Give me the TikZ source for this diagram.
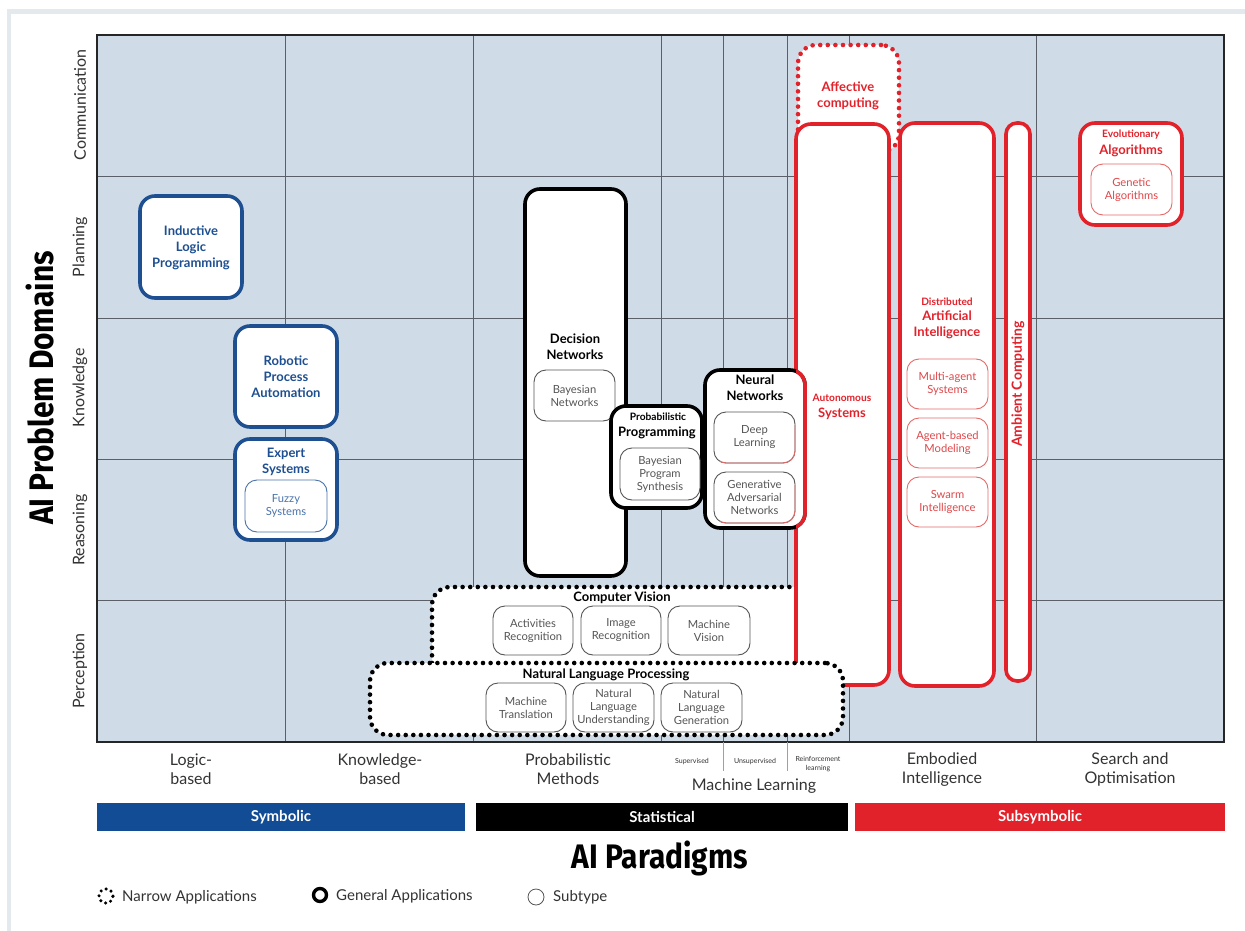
\documentclass[tikz,border=0pt]{standalone}
\usepackage{fontspec}
\setmainfont{Lato}
\newfontfamily\headfont[FakeStretch=0.88]{Fira Sans}

\definecolor{gridfill}{HTML}{CFDCE7}
\definecolor{gridline}{HTML}{5B6068}
\definecolor{framegray}{HTML}{E3E9ED}
\definecolor{blueC}{HTML}{1D4F91}
\definecolor{blueBar}{HTML}{124C94}
\definecolor{blueSub}{HTML}{4A73AA}
\definecolor{redC}{HTML}{E2222B}
\definecolor{redSub}{HTML}{E46A6A}
\definecolor{redText}{HTML}{E0474A}
\definecolor{subBorder}{HTML}{555555}
\definecolor{subText}{HTML}{555555}
\definecolor{textDark}{HTML}{333333}

% box of given corner coordinates: name, style, x1, y1, x2, y2
\newcommand\abox[6]{\node[#2, minimum width={(#5-#3)*1pt}, minimum height={(#6-#4)*1pt}] (#1) at ({(#3+#5)/2},{(#4+#6)/2}) {};}

\begin{document}
\begin{tikzpicture}[x=1pt,y=-1pt,
  gen/.style={draw, line width=3.6pt, rounded corners=15pt, fill=white, inner sep=0pt, outer sep=0pt},
  subb/.style={draw, line width=0.9pt, rounded corners=12pt, fill=white, inner sep=0pt, outer sep=0pt},
  narrow/.style={draw, line width=4.6pt, dash pattern=on 0pt off 7.6pt, line cap=round, rounded corners=18pt, fill=white, inner sep=0pt, outer sep=0pt},
  ttl/.style={align=center, font=\fontsize{13}{16}\selectfont\bfseries, inner sep=0pt},
  ttls/.style={align=center, font=\fontsize{10.2}{12}\selectfont\bfseries, inner sep=0pt},
  subt/.style={align=center, font=\fontsize{11.2}{13}\selectfont, text=subText, inner sep=0pt},
  rowlab/.style={rotate=90, font=\fontsize{16}{19}\selectfont, text=textDark, inner sep=0pt},
  collab/.style={align=center, font=\fontsize{16}{19}\selectfont, text=textDark, inner sep=0pt},
  tinylab/.style={align=center, font=\fontsize{7}{9}\selectfont, text=textDark, inner sep=0pt},
  bar/.style={inner sep=0pt, text=white, font=\fontsize{15}{17}\selectfont\bfseries},
  legtext/.style={anchor=west, inner sep=0pt, font=\fontsize{15}{17}\selectfont, text=textDark},
  gline/.style={draw=gridline, line width=0.9pt}
]
\useasboundingbox (0,0) rectangle (1245,931);
\fill[white] (0,0) rectangle (1245,931);
\fill[framegray] (7,9) rectangle (1245,14);
\fill[framegray] (7,9) rectangle (11,931);

% ---------- grid ----------
\fill[gridfill] (97,35) rectangle (1224,742);
\foreach \x in {285,473,661,849,1036} \draw[gline] (\x,35) -- (\x,742);
\foreach \x in {723,787} \draw[gline, line width=0.6pt] (\x,35) -- (\x,742);
\foreach \y in {176.5,318,459,600.5} \draw[gline] (97,\y) -- (1224,\y);
\draw[draw=black!85, line width=1.8pt] (97,35) rectangle (1224,742);

% ---------- row labels ----------
\node[rowlab] (rComm) at (80,105) {Communication};
\node[rowlab] (rPlan) at (80,247) {Planning};
\node[rowlab] (rKnow) at (80,388) {Knowledge};
\node[rowlab] (rReas) at (80,530) {Reasoning};
\node[rowlab] (rPerc) at (80,671) {Perception};
\node[rotate=90, inner sep=0pt, font=\headfont\fontsize{34}{36}\selectfont\bfseries] (yAxis) at (40,388) {AI Problem Domains};

% ---------- symbolic boxes ----------
\abox{ilp}{gen, draw=blueC}{140}{196}{242}{298}
\node[ttl, text=blueC] (ilpT) at (191,248) {Inductive\\Logic\\Programming};
\abox{rpa}{gen, draw=blueC}{235}{326}{337}{427}
\node[ttl, text=blueC] (rpaT) at (286,377) {Robotic\\Process\\Automation};
\abox{exp}{gen, draw=blueC}{235}{439}{337}{540}
\node[ttl, text=blueC] (expT) at (286,462) {Expert\\Systems};
\abox{fuz}{subb, draw=blueSub}{245}{480}{327}{532}
\node[subt, text=blueSub] (fuzT) at (286,506) {Fuzzy\\Systems};

% ---------- narrow application: affective computing ----------
\abox{aff}{narrow, draw=redC}{798}{45}{899}{152}
\node[ttl, text=redC] (affT) at (848,95.5) {Affective\\computing};

% ---------- computer vision ----------
\abox{cv}{narrow, draw=black}{432}{587}{815}{700}
\node[ttl] (cvT) at (622,598) {Computer Vision};
\abox{ar}{subb, draw=subBorder}{493}{606}{573}{655}
\node[subt] (arT) at (533,630.5) {Activities\\Recognition};
\abox{ir}{subb, draw=subBorder}{581}{606}{661}{655}
\node[subt] (irT) at (621,630.5) {Image\\Recognition};
\abox{mv}{subb, draw=subBorder}{668}{606}{750}{655}
\node[subt] (mvT) at (709,630.5) {Machine\\Vision};

% ---------- subsymbolic boxes ----------
\abox{as}{gen, draw=redC}{796}{124}{889}{685}
\node[ttls, text=redC] (asT1) at (842,398) {Autonomous};
\node[ttl, text=redC] (asT2) at (842,413.5) {Systems};

\abox{dai}{gen, draw=redC}{900}{123}{994}{686}
\node[ttls, text=redC] (daiT1) at (947,302) {Distributed};
\node[ttl, text=redC] (daiT2) at (947,325) {Artificial\\Intelligence};
\abox{mas}{subb, draw=redSub}{907}{359}{988}{409}
\node[subt, text=redText] (masT) at (947.5,384) {Multi-agent\\Systems};
\abox{abm}{subb, draw=redSub}{907}{418}{988}{468}
\node[subt, text=redText] (abmT) at (947.5,443) {Agent-based\\Modeling};
\abox{swi}{subb, draw=redSub}{907}{477}{988}{527}
\node[subt, text=redText] (swiT) at (947.5,502) {Swarm\\Intelligence};

\abox{amb}{gen, draw=redC, rounded corners=11pt}{1006}{123}{1030}{681}
\node[ttl, text=redC, rotate=90, font=\fontsize{14}{16}\selectfont\bfseries] (ambT) at (1018,384) {Ambient Computing};

\abox{evo}{gen, draw=redC}{1080}{123}{1182}{225}
\node[ttls, text=redC] (evoT1) at (1131,135) {Evolutionary};
\node[ttl, text=redC] (evoT2) at (1131,150.5) {Algorithms};
\abox{gal}{subb, draw=redSub}{1091}{164}{1172}{215}
\node[subt, text=redText] (galT) at (1131.5,189.5) {Genetic\\Algorithms};

% ---------- statistical boxes ----------
\abox{dn}{gen, draw=black}{525}{189}{626}{576}
\node[ttl] (dnT) at (575,347) {Decision\\Networks};
\abox{bn}{subb, draw=subBorder}{534}{370}{615}{421}
\node[subt] (bnT) at (574.5,395.5) {Bayesian\\Networks};

\abox{pp}{gen, draw=black}{611}{406}{702}{508}
\node[ttls] (ppT1) at (658,417) {Probabilistic};
\node[ttl] (ppT2) at (657,432.5) {Programming};
\abox{bps}{subb, draw=subBorder}{620}{448}{700}{500}
\node[subt] (bpsT) at (660,474) {Bayesian\\Program\\Synthesis};

\abox{nn}{gen, draw=black}{705}{370}{805}{528}
\begin{scope}
  \clip (796,340) rectangle (830,560);
  \draw[redC, line width=3.6pt, rounded corners=15pt] (nn.north west) rectangle (nn.south east);
\end{scope}
\node[ttl] (nnT) at (755,388) {Neural\\Networks};
\abox{dl}{subb, draw=subBorder}{714}{412}{795}{463}
\begin{scope}
  \clip (700,470) -- (805,470) -- (805,420) -- cycle;
  \draw[redSub, line width=0.9pt, rounded corners=12pt] (dl.north west) rectangle (dl.south east);
\end{scope}
\node[subt] (dlT) at (754.5,437.5) {Deep\\Learning};
\abox{gan}{subb, draw=subBorder}{714}{472}{795}{523}
\begin{scope}
  \clip (700,530) -- (805,530) -- (805,480) -- cycle;
  \draw[redSub, line width=0.9pt, rounded corners=12pt] (gan.north west) rectangle (gan.south east);
\end{scope}
\node[subt] (ganT) at (754.5,497.5) {Generative\\Adversarial\\Networks};

% ---------- natural language processing ----------
\abox{nlp}{narrow, draw=black}{370}{663}{843}{735}
\node[ttl] (nlpT) at (606,674.5) {Natural Language Processing};
\abox{mt}{subb, draw=subBorder}{486}{683}{566}{732}
\node[subt] (mtT) at (526,707.5) {Machine\\Translation};
\abox{nlu}{subb, draw=subBorder}{573}{683}{654}{732}
\node[subt] (nluT) at (613.5,707.5) {Natural\\Language\\Understanding};
\abox{nlg}{subb, draw=subBorder}{661}{683}{742}{732}
\node[subt] (nlgT) at (701.5,707.5) {Natural\\Language\\Generation};

% ---------- column labels ----------
\node[collab] (cLogic) at (191,769.5) {Logic-\\based};
\node[collab] (cKnow) at (380,769.5) {Knowledge-\\based};
\node[collab] (cProb) at (568,769.5) {Probabilistic\\Methods};
\node[tinylab] (cSup) at (692,762) {Supervised};
\node[tinylab] (cUns) at (755,762) {Unsupervised};
\node[tinylab] (cRei) at (818,764) {Reinforcement\\learning};
\node[collab] (cML) at (754,786) {Machine Learning};
\draw[gridline!60, line width=0.6pt] (723,742) -- (723,771);
\draw[gridline!60, line width=0.6pt] (787,742) -- (787,771);
\node[collab] (cEmb) at (942,769.5) {Embodied\\Intelligence};
\node[collab] (cSea) at (1130,769.5) {Search and\\Optimisation};

% ---------- paradigm bars ----------
\node[bar, fill=blueBar, minimum width=368pt, minimum height=28pt] (symb) at (281,817) {Symbolic};
\node[bar, fill=black, minimum width=372pt, minimum height=28pt] (stat) at (662,817) {Statistical};
\node[bar, fill=redC, minimum width=370pt, minimum height=28pt] (subs) at (1040,817) {Subsymbolic};
\node[inner sep=0pt, font=\headfont\fontsize{34}{36}\selectfont\bfseries] (xAxis) at (660,858) {AI Paradigms};

% ---------- legend ----------
\node[circle, draw=black, line width=3.4pt, dash pattern=on 0pt off 5.4pt, line cap=round, minimum size=14pt, inner sep=0pt] (lgN) at (106,896) {};
\node[legtext] (lgNt) at (122,897) {Narrow Applications};
\node[circle, draw=black, line width=3.4pt, minimum size=13pt, inner sep=0pt] (lgG) at (320,895) {};
\node[legtext] (lgGt) at (336,896) {General Applications};
\node[circle, draw=subBorder, line width=0.8pt, minimum size=16pt, inner sep=0pt] (lgS) at (536,897) {};
\node[legtext] (lgSt) at (553,897) {Subtype};
\end{tikzpicture}
\end{document}
